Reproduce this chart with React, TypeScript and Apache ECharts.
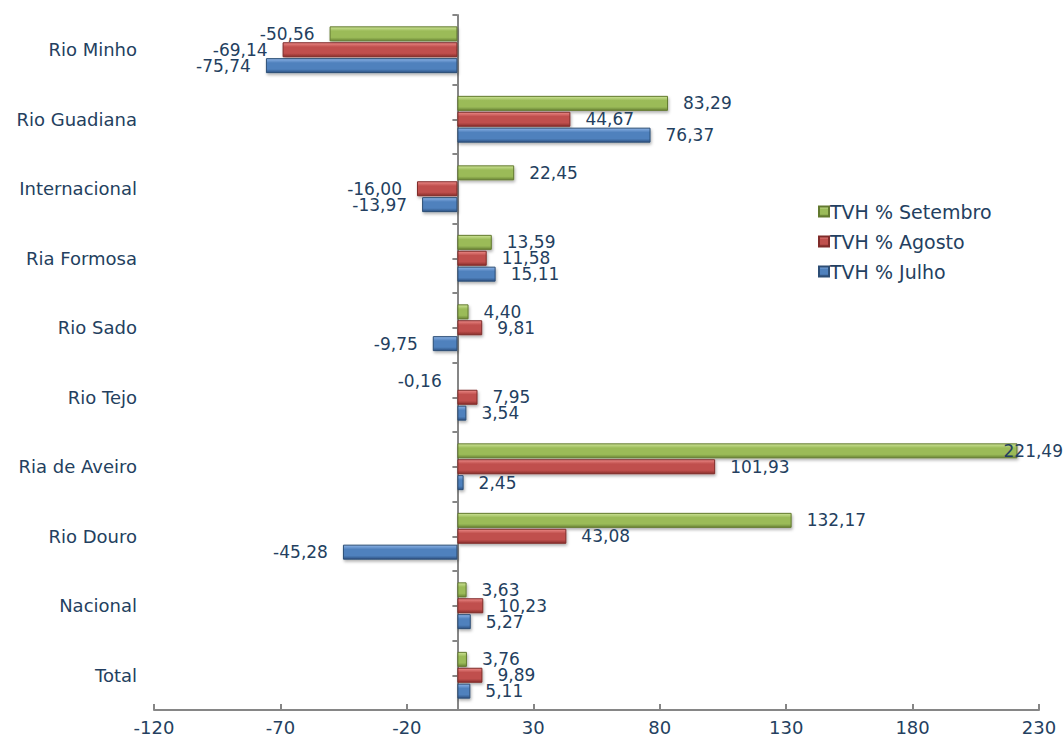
import React, { useEffect, useRef } from "react";
import * as echarts from "echarts";

const categories = [
  "Total",
  "Nacional",
  "Rio Douro",
  "Ria de Aveiro",
  "Rio Tejo",
  "Rio Sado",
  "Ria Formosa",
  "Internacional",
  "Rio Guadiana",
  "Rio Minho",
];
const setembro = [3.76, 3.63, 132.17, 221.49, -0.16, 4.4, 13.59, 22.45, 83.29, -50.56];
const agosto = [9.89, 10.23, 43.08, 101.93, 7.95, 9.81, 11.58, -16.0, 44.67, -69.14];
const julho = [5.11, 5.27, -45.28, 2.45, 3.54, -9.75, 15.11, -13.97, 76.37, -75.74];
const seriesNames = ["TVH % Setembro", "TVH % Agosto", "TVH % Julho"];
const xTicks = { min: -120, max: 230, interval: 50 };

const TEXT = "#243F60";
const FONT = "DejaVu Sans";

function grad(light: string, main: string, dark: string) {
  return new echarts.graphic.LinearGradient(0, 0, 0, 1, [
    { offset: 0, color: light },
    { offset: 0.3, color: main },
    { offset: 0.75, color: main },
    { offset: 1, color: dark },
  ]);
}

const styles = [
  { color: grad("#CDE396", "#9BBB59", "#6A8535"), border: "#62792F", legend: "#9BBB59" },
  { color: grad("#EC8A87", "#C0504D", "#8A2E2C"), border: "#7F2B29", legend: "#C0504D" },
  { color: grad("#8DB3E6", "#4F81BD", "#2E5283"), border: "#2C4D75", legend: "#4F81BD" },
];

const fmt = (v: number) => v.toFixed(2).replace(".", ",");

export default function App() {
  const ref = useRef<HTMLDivElement>(null);
  useEffect(() => {
    if (!ref.current) return;
    const chart = echarts.init(ref.current, undefined, { renderer: "svg" });
    const allData = [setembro, agosto, julho];
    const W = 1064;
    chart.setOption({
      animation: false,
      backgroundColor: "#ffffff",
      textStyle: { fontFamily: FONT, color: TEXT },
      color: styles.map((s) => s.legend),
      legend: {
        orient: "vertical",
        left: 813,
        top: 197,
        itemWidth: 10,
        itemHeight: 10,
        itemGap: 11,
        data: seriesNames,
        textStyle: { fontFamily: FONT, color: TEXT, fontSize: 19, padding: [0, 0, 0, -4] },
        icon: "rect",
      },
      grid: {
        left: 154,
        right: 25,
        top: 15,
        bottom: 32,
        containLabel: false,
        outerBoundsMode: "none",
      },
      xAxis: {
        type: "value",
        min: xTicks.min,
        max: xTicks.max,
        interval: xTicks.interval,
        splitLine: { show: false },
        axisLine: { show: true, onZero: false, lineStyle: { color: "#868686", width: 2 } },
        axisTick: { show: true, inside: true, length: 6, lineStyle: { color: "#868686", width: 2 } },
        axisLabel: {
          fontFamily: FONT,
          fontSize: 18,
          color: TEXT,
          margin: 8,
          formatter: (v: number) => String(v),
        },
      },
      yAxis: [
        {
          type: "category",
          data: categories,
          position: "left",
          axisLine: { show: true, onZero: true, lineStyle: { color: "#868686", width: 2 } },
          axisTick: { show: true, length: 5, lineStyle: { color: "#868686", width: 2 } },
          axisLabel: { fontFamily: FONT, fontSize: 18, color: TEXT, margin: 17 },
        },
        {
          type: "category",
          data: categories,
          position: "right",
          axisLine: { show: false, onZero: true, onZeroAxisIndex: 0 },
          axisTick: {
            show: true,
            inside: true,
            alignWithLabel: true,
            length: 5,
            lineStyle: { color: "#868686", width: 2 },
          },
          axisLabel: { show: false },
        },
      ],
      labelLayout: (params: any) => {
        const r = params.labelRect;
        if (r && r.x + r.width > W - 1) {
          return { x: W - 1 - r.width, y: r.y, align: "left", verticalAlign: "top" };
        }
        return {};
      },
      series: allData.map((arr, i) => ({
        name: seriesNames[i],
        type: "bar",
        yAxisIndex: 0,
        barWidth: 15,
        barGap: "6%",
        itemStyle: {
          color: styles[i].color,
          borderColor: styles[i].border,
          borderWidth: 1,
          shadowColor: "rgba(0,0,0,0.3)",
          shadowBlur: 3,
          shadowOffsetY: 2,
          shadowOffsetX: 1,
        },
        label: {
          show: true,
          distance: 15,
          fontFamily: FONT,
          fontSize: 17,
          color: TEXT,
          formatter: (p: any) => fmt(p.value),
        },
        data: arr.map((v) => ({
          value: v,
          label: { position: v < 0 ? "left" : "right" },
        })),
      })),
    });
    return () => chart.dispose();
  }, []);
  return (
    <div
      ref={ref}
      style={{ position: "fixed", left: 0, top: 0, width: 1064, height: 742 }}
    />
  );
}
